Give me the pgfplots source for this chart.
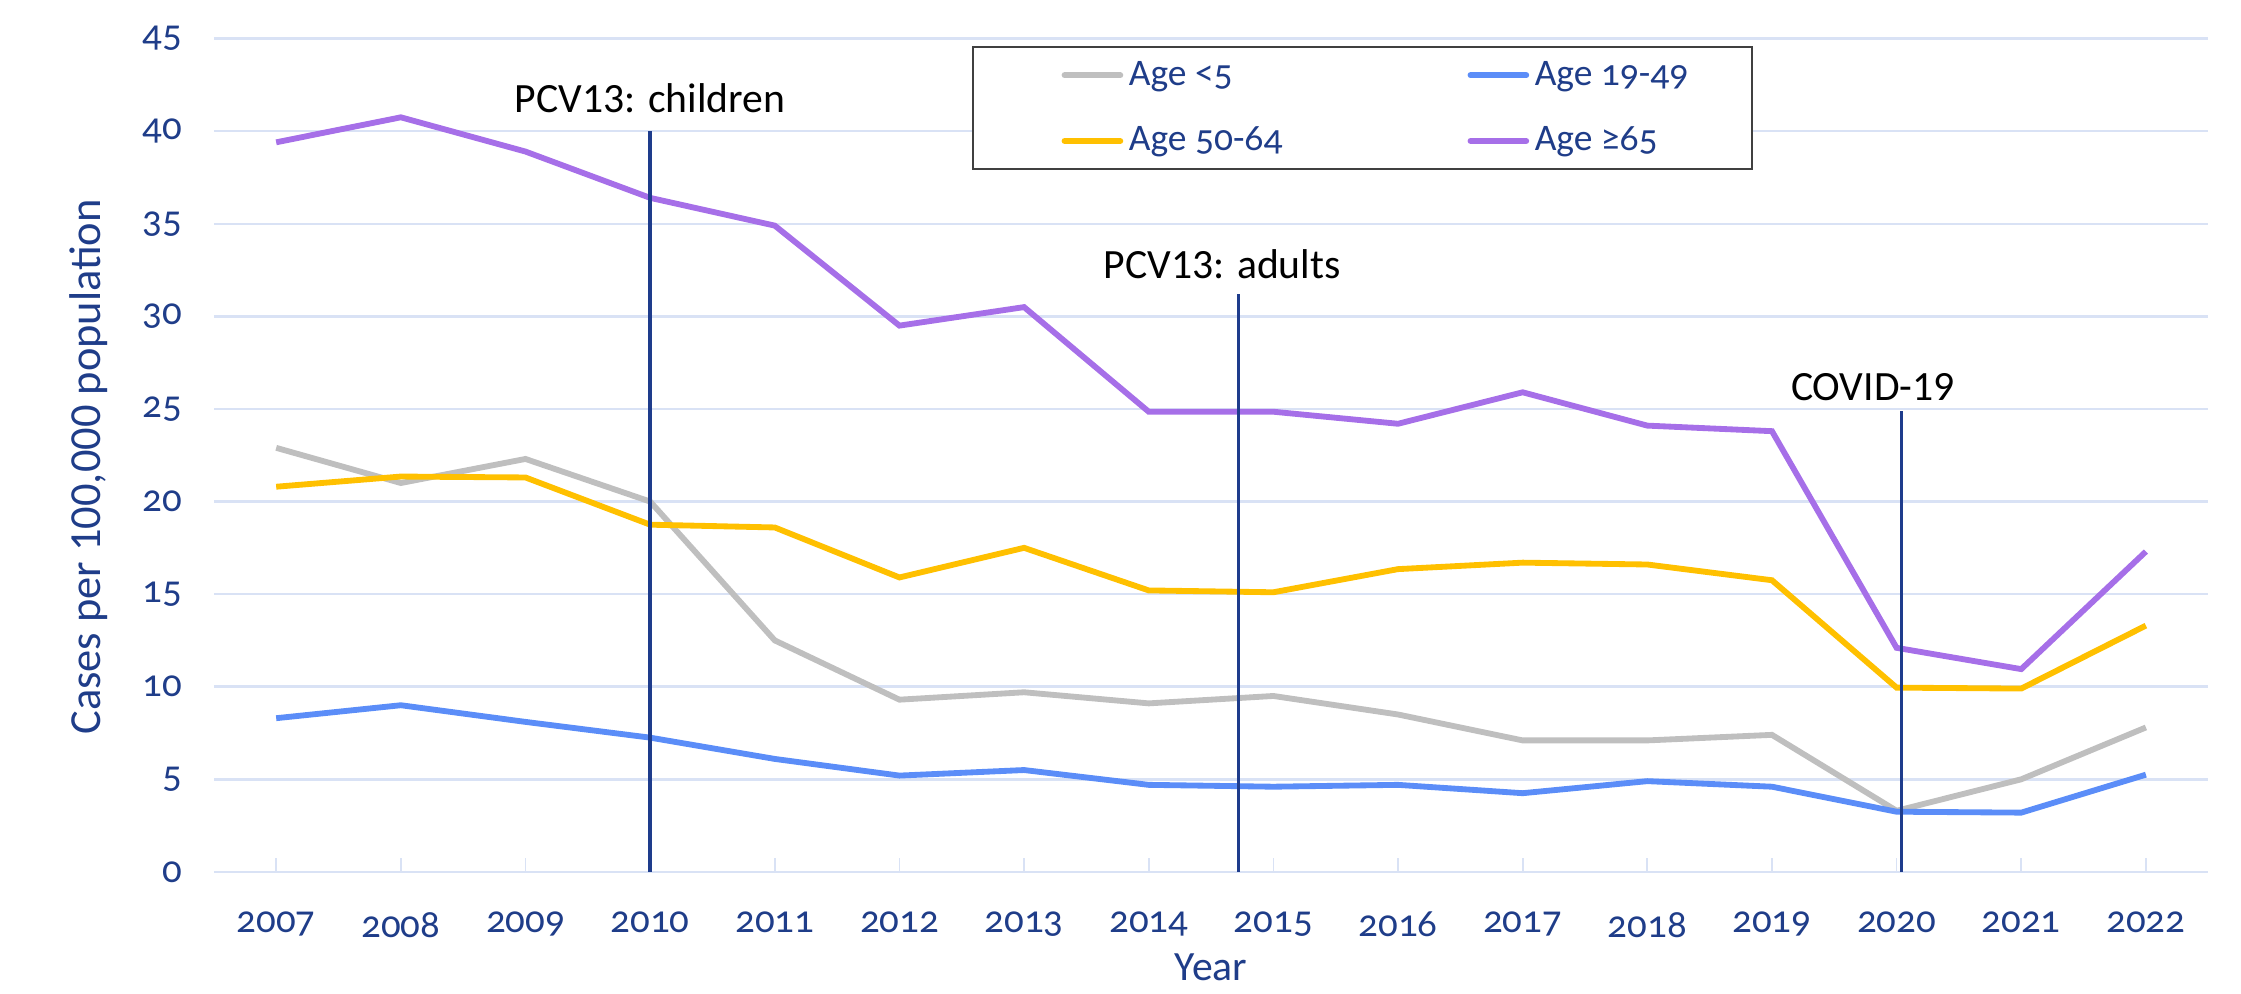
\documentclass[border=0pt]{standalone}
\usepackage{fontspec}
\setmainfont{Carlito}
\newfontfamily\osf{Carlito}[Numbers=OldStyle]
\usepackage{pgfplots}
\pgfplotsset{compat=1.18}
\definecolor{navy}{RGB}{31,61,137}
\definecolor{gridc}{RGB}{217,226,245}
\definecolor{cgrey}{RGB}{191,191,191}
\definecolor{cblue}{RGB}{91,141,248}
\definecolor{cyellow}{RGB}{255,192,0}
\definecolor{cpurple}{RGB}{166,111,232}
\definecolor{vline}{RGB}{30,60,140}
\begin{document}
\begin{tikzpicture}
\path[use as bounding box] (-77pt,-43.9pt) rectangle (729.8pt,313.9pt);
\begin{axis}[
  at={(0pt,0pt)}, anchor=south west,
  scale only axis, width=718pt, height=300pt,
  xmin=2006.5, xmax=2022.5, ymin=0, ymax=45,
  xtick={2007,2008,...,2022}, ytick={0,5,...,45},
  /pgf/number format/.cd, 1000 sep={}, /pgf/number format/assume math mode=true, /pgfplots/.cd,
  axis line style={draw=none},
  tick pos=left,
  ymajorgrids, grid style={draw=gridc, line width=0.9pt},
  xtick style={draw=gridc, line width=0.6pt}, major tick length=5pt, tick align=inside,
  ytick style={draw=none},
  xticklabel style={font=\osf\fontsize{14}{16}\selectfont, text=navy, yshift=-11pt},
  yticklabel style={font=\osf\fontsize{14}{16}\selectfont, text=navy, xshift=-8pt},
  xlabel={Year}, ylabel={Cases per 100,000 population},
  xlabel style={font=\fontsize{15}{18}\selectfont, text=navy, at={(axis description cs:0.5,0)}, anchor=center, yshift=-34.5pt},
  ylabel style={font=\fontsize{16}{19}\selectfont, text=navy, at={(axis description cs:0,0.486)}, anchor=center, yshift=45pt},
  legend columns=2,
  legend cell align=left,
  legend image code/.code={\path (-11pt,0pt); \draw[#1, line width=2.2pt, line cap=round] (0pt,0pt) -- (20pt,0pt);},
  legend style={at={(0.38,0.991)}, anchor=north west, draw=black!75, line width=0.8pt,
    font=\osf\fontsize{13.5}{16}\selectfont, text=navy, inner xsep=21pt, inner ysep=3pt, row sep=9.5pt},
]
\addplot[cgrey, line width=2.1pt] coordinates {
(2007,22.9) (2008,21.0) (2009,22.3) (2010,20.0) (2011,12.5) (2012,9.3) (2013,9.7) (2014,9.1)
(2015,9.5) (2016,8.5) (2017,7.1) (2018,7.1) (2019,7.4) (2020,3.3) (2021,5.0) (2022,7.8)};
\addlegendentry{\makebox[109pt][l]{Age <5}}
\addplot[cblue, line width=2.1pt] coordinates {
(2007,8.3) (2008,9.0) (2009,8.1) (2010,7.25) (2011,6.1) (2012,5.2) (2013,5.5) (2014,4.7)
(2015,4.6) (2016,4.7) (2017,4.25) (2018,4.9) (2019,4.6) (2020,3.25) (2021,3.2) (2022,5.25)};
\addlegendentry{Age 19-49}
\addplot[cyellow, line width=2.1pt] coordinates {
(2007,20.8) (2008,21.35) (2009,21.3) (2010,18.75) (2011,18.6) (2012,15.9) (2013,17.5) (2014,15.2)
(2015,15.1) (2016,16.35) (2017,16.7) (2018,16.6) (2019,15.75) (2020,9.95) (2021,9.9) (2022,13.3)};
\addlegendentry{\makebox[109pt][l]{Age 50-64}}
\addplot[cpurple, line width=2.1pt] coordinates {
(2007,39.4) (2008,40.75) (2009,38.9) (2010,36.4) (2011,34.9) (2012,29.5) (2013,30.5) (2014,24.85)
(2015,24.85) (2016,24.2) (2017,25.9) (2018,24.1) (2019,23.8) (2020,12.1) (2021,10.95) (2022,17.3)};
\addlegendentry{Age ≥65}
\addplot[vline, line width=1.2pt, forget plot] coordinates {(2010,0) (2010,40)};
\addplot[vline, line width=1.2pt, forget plot] coordinates {(2014.72,0) (2014.72,31.2)};
\addplot[vline, line width=1.2pt, forget plot] coordinates {(2020.04,0) (2020.04,24.9)};
\node[font=\fontsize{15}{18}\selectfont, text=black] at (axis cs:2010,41.8) {PCV13: children};
\node[font=\fontsize{15}{18}\selectfont, text=black] at (axis cs:2014.59,32.8) {PCV13: adults};
\node[font=\fontsize{15}{18}\selectfont, text=black] at (axis cs:2019.81,26.2) {COVID-19};
\end{axis}
\end{tikzpicture}
\end{document}
